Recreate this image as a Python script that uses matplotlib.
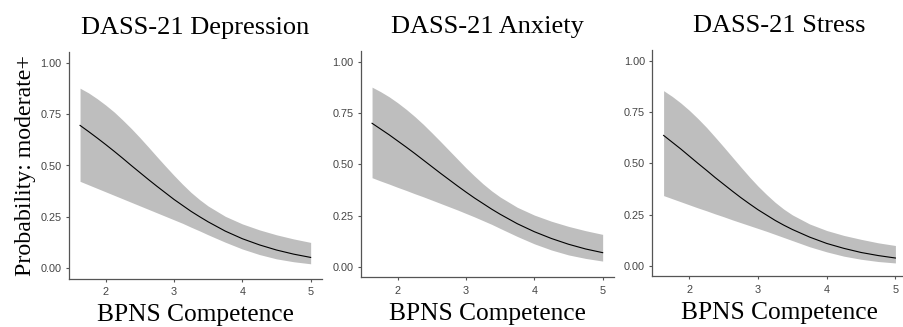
import matplotlib
matplotlib.use("Agg")
import matplotlib.pyplot as plt

x = [1.625, 1.75, 1.875, 2.0, 2.125, 2.25, 2.375, 2.5, 2.625, 2.75, 2.875,
     3.0, 3.125, 3.25, 3.375, 3.5, 3.75, 4.0, 4.25, 4.5, 4.75, 5.0]

titles = ["DASS-21 Depression", "DASS-21 Anxiety", "DASS-21 Stress"]

dep_fit = [0.695, 0.665, 0.634, 0.602, 0.569, 0.535, 0.500, 0.466, 0.432, 0.399, 0.367,
           0.335, 0.306, 0.277, 0.251, 0.226, 0.181, 0.144, 0.114, 0.089, 0.069, 0.053]
dep_hi = [0.876, 0.853, 0.825, 0.794, 0.760, 0.721, 0.680, 0.636, 0.590, 0.543, 0.497,
          0.452, 0.409, 0.369, 0.334, 0.303, 0.253, 0.216, 0.187, 0.163, 0.143, 0.126]
dep_lo = [0.423, 0.406, 0.389, 0.372, 0.355, 0.338, 0.321, 0.304, 0.287, 0.270, 0.253,
          0.236, 0.219, 0.200, 0.182, 0.163, 0.127, 0.094, 0.067, 0.046, 0.032, 0.022]

anx_fit = [0.700, 0.672, 0.644, 0.614, 0.584, 0.553, 0.521, 0.489, 0.457, 0.426, 0.395,
           0.365, 0.336, 0.309, 0.282, 0.257, 0.211, 0.172, 0.139, 0.111, 0.088, 0.070]
anx_hi = [0.876, 0.854, 0.829, 0.800, 0.768, 0.733, 0.695, 0.654, 0.612, 0.569, 0.526,
          0.483, 0.443, 0.405, 0.371, 0.341, 0.291, 0.253, 0.223, 0.198, 0.177, 0.159]
anx_lo = [0.435, 0.419, 0.404, 0.388, 0.373, 0.357, 0.342, 0.326, 0.310, 0.294, 0.278,
          0.261, 0.244, 0.226, 0.208, 0.188, 0.149, 0.113, 0.083, 0.059, 0.042, 0.029]

str_fit = [0.636, 0.603, 0.570, 0.535, 0.500, 0.466, 0.431, 0.398, 0.365, 0.333, 0.303,
           0.274, 0.248, 0.222, 0.199, 0.178, 0.141, 0.110, 0.086, 0.066, 0.051, 0.039]
str_hi = [0.854, 0.826, 0.794, 0.758, 0.718, 0.675, 0.628, 0.580, 0.531, 0.482, 0.434,
          0.389, 0.348, 0.310, 0.277, 0.249, 0.205, 0.173, 0.149, 0.130, 0.113, 0.100]
str_lo = [0.343, 0.328, 0.313, 0.298, 0.283, 0.269, 0.254, 0.240, 0.225, 0.211, 0.197,
          0.183, 0.169, 0.154, 0.139, 0.124, 0.094, 0.069, 0.048, 0.033, 0.022, 0.015]

xticks = [2, 3, 4, 5]
yticks = [0.0, 0.25, 0.5, 0.75, 1.0]

W, H = 904, 327
# axes boxes in pixels: left, top, right, bottom
boxes = [(68.5, 52.4, 322.2, 278.6),
         (360.5, 51.4, 614.2, 277.3),
         (652.0, 50.4, 907.0, 276.3)]

SERIF = "Liberation Serif"
SANS = "Liberation Sans"

fig = plt.figure(figsize=(W / 100, H / 100), dpi=100)
series = [(dep_fit, dep_lo, dep_hi), (anx_fit, anx_lo, anx_hi), (str_fit, str_lo, str_hi)]
for i, ((fit, lo, hi), title, (l, t, r, b)) in enumerate(zip(series, titles, boxes)):
    ax = fig.add_axes([l / W, 1 - b / H, (r - l) / W, (b - t) / H])
    ax.fill_between(x, lo, hi, color="#bebebe", lw=0)
    ax.plot(x, fit, color="black", lw=0.8)
    ax.set_xlim(1.456, 5.169)
    ax.set_ylim(-0.05, 1.05)
    ax.set_xticks(xticks)
    ax.set_xticklabels([str(v) for v in xticks])
    ax.set_yticks(yticks)
    ax.set_yticklabels([f"{v:.2f}" for v in yticks])
    for s in ("top", "right"):
        ax.spines[s].set_visible(False)
    for s in ("left", "bottom"):
        ax.spines[s].set_color("#555555")
        ax.spines[s].set_linewidth(0.9)
    ax.tick_params(length=2.5, width=0.8, color="#555555", labelcolor="#444444",
                   labelsize=7.8)
    ax.tick_params(axis="x", pad=3.5)
    ax.tick_params(axis="y", pad=2.5)
    for lab in ax.get_xticklabels() + ax.get_yticklabels():
        lab.set_family(SANS)
    ax.set_title(title, family=SERIF, fontsize=19, pad=13)
    ax.set_xlabel("BPNS Competence", family=SERIF, fontsize=18.3, labelpad=5)
    if i == 0:
        ax.set_ylabel("Probability: moderate+", family=SERIF, fontsize=17.2,
                      labelpad=3)

fig.savefig("out.png", dpi=100)
